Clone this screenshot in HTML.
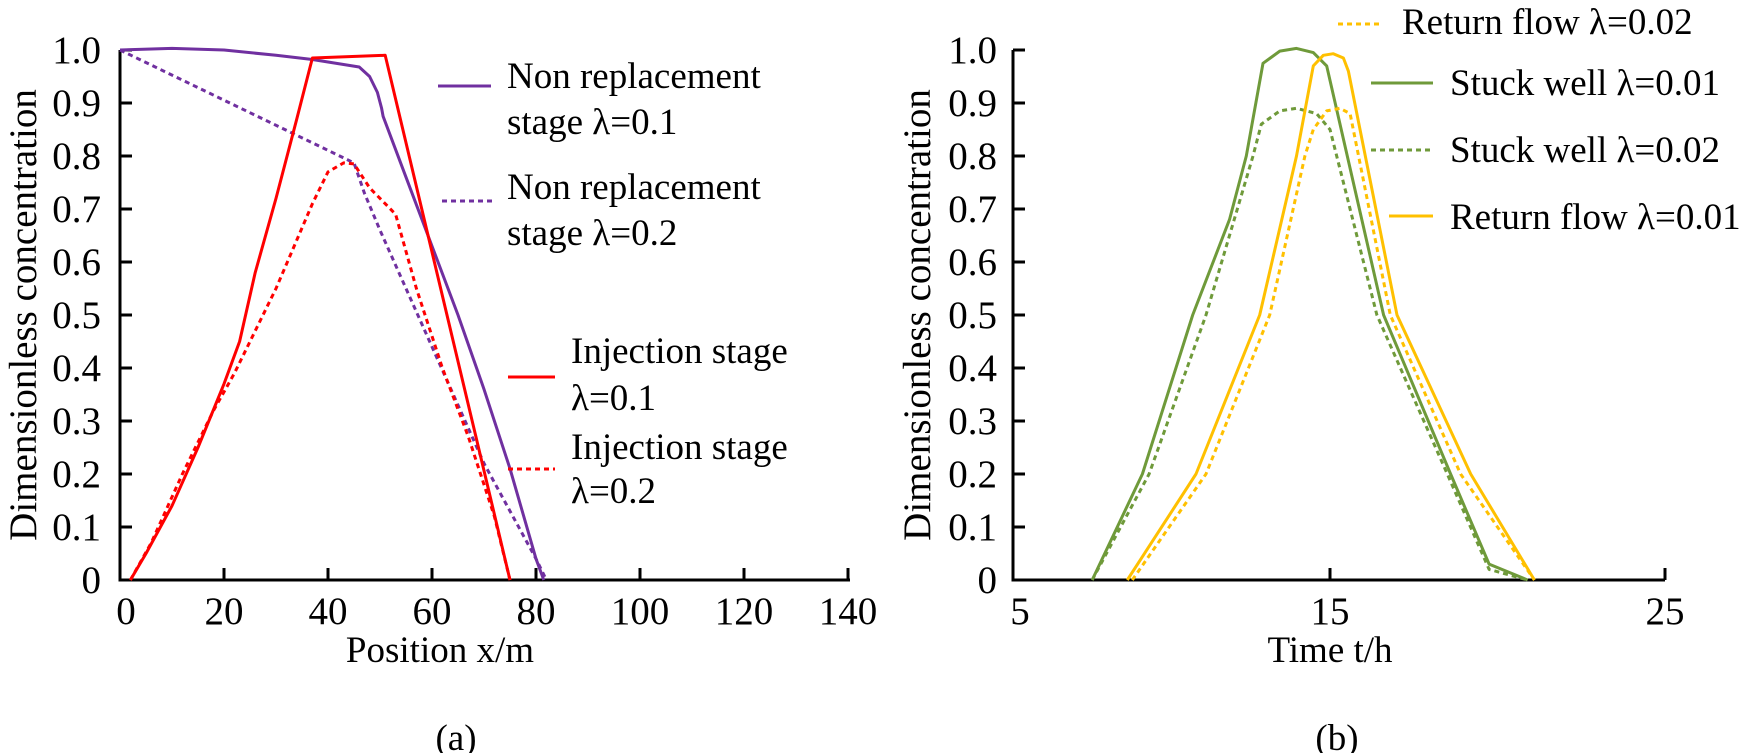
<!DOCTYPE html>
<html><head><meta charset="utf-8"><style>
html,body{margin:0;padding:0;background:#fff;}
svg{display:block;font-family:"Liberation Serif",serif;}
</style></head><body>
<svg id="s" width="1750" height="753" viewBox="0 0 1750 753" xmlns="http://www.w3.org/2000/svg">
<g stroke="#000" stroke-width="3" fill="none">
<path d="M120 50 V580 H850"/>
<path d="M1013 50 V580 H1665"/>
</g>
<g id="ticks" stroke="#000" stroke-width="3"></g>
<g id="labels" font-size="39" fill="#000"></g>
<g id="curves" fill="none" stroke-width="3"></g>
<g font-size="37" fill="#000">
<text x="440" y="662" text-anchor="middle">Position x/m</text>
<text x="456" y="750" text-anchor="middle">(a)</text>
<text x="1330" y="662" text-anchor="middle">Time t/h</text>
<text x="1337" y="750" text-anchor="middle">(b)</text>
<text transform="translate(36,315) rotate(-90)" text-anchor="middle" font-size="39">Dimensionless concentration</text>
<text transform="translate(930,315) rotate(-90)" text-anchor="middle" font-size="39">Dimensionless concentration</text>
<text x="507" y="88">Non replacement</text>
<text x="507" y="134">stage λ=0.1</text>
<text x="507" y="199">Non replacement</text>
<text x="507" y="245">stage λ=0.2</text>
<text x="571" y="363">Injection stage</text>
<text x="571" y="410">λ=0.1</text>
<text x="571" y="459">Injection stage</text>
<text x="571" y="503">λ=0.2</text>
<text x="1402" y="34">Return flow  λ=0.02</text>
<text x="1450" y="95">Stuck well λ=0.01</text>
<text x="1450" y="162">Stuck well λ=0.02</text>
<text x="1450" y="229">Return flow λ=0.01</text>
</g>
<g fill="none" stroke-width="3">
<line x1="438" y1="86" x2="491" y2="86" stroke="#7030a0"/>
<line x1="442" y1="201" x2="495" y2="201" stroke="#7030a0" stroke-dasharray="5,4"/>
<line x1="508" y1="377" x2="555" y2="377" stroke="#ff0000"/>
<line x1="508" y1="469" x2="555" y2="469" stroke="#ff0000" stroke-dasharray="5,4"/>
<line x1="1338" y1="24" x2="1382" y2="24" stroke="#ffc000" stroke-dasharray="5,4"/>
<line x1="1371" y1="83" x2="1433" y2="83" stroke="#6f9a3a"/>
<line x1="1371" y1="150" x2="1433" y2="150" stroke="#6f9a3a" stroke-dasharray="5,4"/>
<line x1="1389" y1="216" x2="1433" y2="216" stroke="#ffc000"/>
</g>
</svg>
<script>
var NS="http://www.w3.org/2000/svg";
function el(p,t,a,txt){var e=document.createElementNS(NS,t);for(var k in a)e.setAttribute(k,a[k]);if(txt!=null)e.textContent=txt;document.getElementById(p).appendChild(e);}
function Y(c){return 580-c*530;}
for(var i=0;i<=10;i++){var y=Y(i/10);
 if(i>0){el('ticks','line',{x1:120,y1:y,x2:132,y2:y});el('ticks','line',{x1:1013,y1:y,x2:1025,y2:y});}
 var t=i==0?"0":(i==10?"1.0":"0."+i);
 el('labels','text',{x:101,y:y+13,'text-anchor':'end'},t);
 el('labels','text',{x:997,y:y+13,'text-anchor':'end'},t);
}
function XL(v){return 120+v*5.2;}
for(var v=20;v<=140;v+=20){el('ticks','line',{x1:XL(v),y1:580,x2:XL(v),y2:568});}
for(var v=0;v<=140;v+=20){el('labels','text',{x:XL(v)+(v==0?6:0),y:624,'text-anchor':'middle'},""+v);}
function XR(t){return 1330+33.5*(t-15);}
el('ticks','line',{x1:1330,y1:580,x2:1330,y2:568});el('ticks','line',{x1:1665,y1:580,x2:1665,y2:568});
[[5,1020],[15,1330],[25,1665]].forEach(function(a){el('labels','text',{x:a[1],y:624,'text-anchor':'middle'},""+a[0]);});
function curve(pts,fx,col,dash){var d=pts.map(function(p,i){return (i?"L":"M")+fx(p[0]).toFixed(1)+" "+Y(p[1]).toFixed(1);}).join(" ");
 var a={d:d,stroke:col,'stroke-linejoin':'round'};if(dash)a['stroke-dasharray']='5,4';el('curves','path',a);}
var P="#7030a0",R="#ff0000",G="#6f9a3a",O="#ffc000";
curve([[0,1],[10,1.003],[20,1.0],[30,0.99],[37,0.982],[46,0.968],[48,0.95],[49.5,0.92],[50.3,0.89],[50.6,0.875],[55,0.76],[60,0.63],[65,0.5],[70,0.36],[75,0.21],[80,0.04],[81.5,0]],XL,P);
curve([[0,1],[45,0.787],[47,0.73],[50,0.66],[55,0.55],[60,0.44],[65,0.33],[70,0.22],[75,0.13],[80,0.04],[82,0]],XL,P,1);
curve([[2,0],[5,0.05],[10,0.14],[15,0.25],[20,0.37],[23,0.45],[26,0.58],[30,0.72],[34,0.87],[37,0.985],[51,0.99],[75,0]],XL,R);
curve([[2,0],[6,0.07],[12,0.2],[18,0.32],[22,0.39],[30,0.55],[37,0.71],[40,0.77],[43,0.787],[45,0.785],[48,0.74],[53,0.69],[57,0.55],[62,0.4],[67,0.27],[72,0.12],[75,0]],XL,R,1);
curve([[7.9,0],[9.4,0.2],[10.9,0.5],[12,0.68],[12.5,0.8],[13,0.975],[13.5,0.998],[14,1.003],[14.5,0.995],[14.9,0.97],[16.6,0.5],[18.6,0.2],[19.75,0.03],[20.9,0]],XR,G);
curve([[7.9,0],[9.6,0.2],[11.3,0.5],[12.7,0.8],[12.95,0.86],[13.5,0.885],[14,0.89],[14.6,0.88],[15,0.85],[16.4,0.5],[18.5,0.2],[19.75,0.02],[20.9,0]],XR,G,1);
curve([[8.95,0],[11,0.2],[12.9,0.5],[14,0.8],[14.5,0.97],[14.8,0.99],[15.1,0.993],[15.4,0.985],[15.55,0.96],[17,0.5],[19.2,0.2],[21.1,0]],XR,O);
curve([[9.1,0],[11.3,0.2],[13.2,0.5],[14.25,0.8],[14.5,0.85],[14.9,0.885],[15.3,0.89],[15.6,0.88],[16.8,0.5],[18.9,0.2],[21.1,0]],XR,O,1);
</script>
</body></html>
